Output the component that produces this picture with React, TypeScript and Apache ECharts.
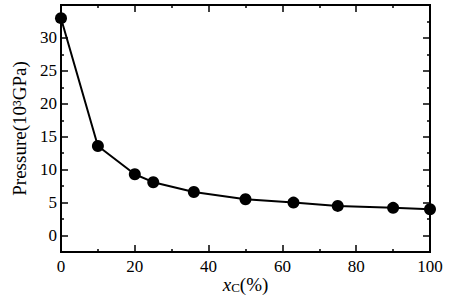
import React, { useEffect, useRef } from 'react';
import * as echarts from 'echarts';

const xValues = [0, 10, 20, 25, 36, 50, 63, 75, 90, 100];
const pressure = [33.0, 13.6, 9.3, 8.1, 6.6, 5.5, 5.0, 4.5, 4.2, 4.0];
const xMajorTicks = [0, 20, 40, 60, 80, 100];
const xMinorTicks = [10, 30, 50, 70, 90];
const yMajorTicks = [0, 5, 10, 15, 20, 25, 30];
const yMinorTicks = [2.5, 7.5, 12.5, 17.5, 22.5, 27.5, 32.5];

const FONT = 'Liberation Serif';
const X_MIN = 0, X_MAX = 100;
const Y_MIN = -2.5, Y_MAX = 35;

const labelRich = { d: { fontFamily: FONT, fontSize: 17, color: '#000' } };

function xAxis(gridIndex: number, position: string, ticks: number[], len: number, labels: boolean, extra: any = {}) {
  return {
    type: 'value', gridIndex, position, min: X_MIN, max: X_MAX,
    splitLine: { show: false },
    axisLine: { show: true, onZero: false, lineStyle: { color: '#000', width: 2 } },
    axisTick: { show: true, inside: true, length: len, customValues: ticks, lineStyle: { color: '#000', width: 1.5 } },
    axisLabel: labels
      ? { show: true, customValues: ticks, color: '#000', fontFamily: FONT, fontSize: 17, margin: 6,
          formatter: (v: number) => `{d|${v}}`, rich: labelRich }
      : { show: false },
    ...extra,
  };
}

function yAxis(gridIndex: number, position: string, ticks: number[], len: number, labels: boolean, extra: any = {}) {
  return {
    type: 'value', gridIndex, position, min: Y_MIN, max: Y_MAX,
    splitLine: { show: false },
    axisLine: { show: true, onZero: false, lineStyle: { color: '#000', width: 2 } },
    axisTick: { show: true, inside: true, length: len, customValues: ticks, lineStyle: { color: '#000', width: 1.5 } },
    axisLabel: labels
      ? { show: true, customValues: ticks, color: '#000', fontFamily: FONT, fontSize: 17, margin: 4,
          formatter: (v: number) => `{d|${v}}`, rich: labelRich }
      : { show: false },
    ...extra,
  };
}

export default function App() {
  const ref = useRef<HTMLDivElement>(null);
  useEffect(() => {
    if (!ref.current) return;
    const chart = echarts.init(ref.current, undefined, { renderer: 'svg' });
    const grid = { left: 61, right: 33, top: 5, bottom: 47, containLabel: false, outerBoundsMode: 'none' };
    chart.setOption({
      animation: false,
      backgroundColor: '#fff',
      textStyle: { fontFamily: FONT, color: '#000' },
      grid: [grid, { ...grid }],
      xAxis: [
        xAxis(0, 'bottom', xMajorTicks, 7, true, {
          name: '{i|x}{s|C}{n|(%)}',
          nameLocation: 'middle',
          nameMoveOverlap: false,
          nameGap: 22,
          nameTextStyle: {
            color: '#000',
            fontFamily: FONT,
            fontSize: 19,
            rich: {
              i: { fontFamily: FONT, fontSize: 19, fontStyle: 'italic', color: '#000' },
              s: { fontFamily: FONT, fontSize: 13, color: '#000', verticalAlign: 'bottom', padding: [7, 0, 0, 0] },
              n: { fontFamily: FONT, fontSize: 19, color: '#000' },
            },
          },
        }),
        xAxis(0, 'top', xMajorTicks, 7, false),
        xAxis(1, 'bottom', xMinorTicks, 3, false),
        xAxis(1, 'top', xMinorTicks, 3, false),
      ],
      yAxis: [
        yAxis(0, 'left', yMajorTicks, 7, true, {
          name: 'Pressure(10³GPa)',
          nameLocation: 'middle',
          nameMoveOverlap: false,
          nameGap: 32,
          nameTextStyle: { color: '#000', fontFamily: FONT, fontSize: 19 },
        }),
        yAxis(0, 'right', yMajorTicks, 7, false),
        yAxis(1, 'left', yMinorTicks, 3, false),
        yAxis(1, 'right', yMinorTicks, 3, false),
      ],
      series: [
        {
          type: 'line',
          xAxisIndex: 0,
          yAxisIndex: 0,
          data: xValues.map((x, i) => [x, pressure[i]]),
          symbol: 'circle',
          symbolSize: 12,
          lineStyle: { color: '#000', width: 2 },
          itemStyle: { color: '#000' },
          z: 5,
        },
      ],
    });
    return () => chart.dispose();
  }, []);
  return <div ref={ref} style={{ position: 'fixed', left: 0, top: 0, width: 463, height: 299 }} />;
}
